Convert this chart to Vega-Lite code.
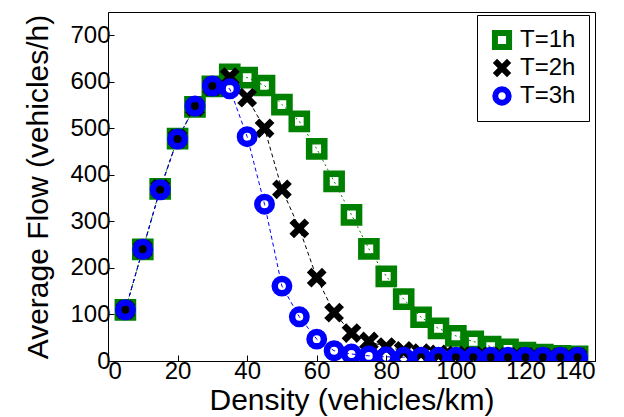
{
  "$schema": "https://vega.github.io/schema/vega-lite/v6.json",
  "width": 487,
  "height": 349,
  "autosize": "none",
  "padding": {"left": 108, "top": 12, "right": 29, "bottom": 56},
  "background": "white",
  "config": {
    "view": {"stroke": "black", "strokeWidth": 1},
    "font": "Liberation Sans",
    "axis": {
      "domainColor": "black",
      "domainWidth": 1,
      "tickColor": "black",
      "tickSize": -6,
      "labelFont": "Liberation Sans",
      "labelFontSize": 24,
      "labelColor": "black",
      "titleFont": "Liberation Sans",
      "titleFontSize": 30,
      "titleFontWeight": "normal",
      "titleColor": "black",
      "grid": false
    },
    "legend": {
      "labelFont": "Liberation Sans",
      "labelFontSize": 24,
      "labelColor": "black",
      "strokeColor": "black",
      "fillColor": "white",
      "padding": 13,
      "rowPadding": 4,
      "labelOffset": 6,
      "clipHeight": 24,
      "symbolStrokeWidth": 6,
      "symbolSize": 200,
      "cornerRadius": 0
    }
  },
  "data": {
    "values": [
      {"d": 5, "f": 110, "T": "T=1h"}, {"d": 10, "f": 240, "T": "T=1h"}, {"d": 15, "f": 370, "T": "T=1h"},
      {"d": 20, "f": 478, "T": "T=1h"}, {"d": 25, "f": 546, "T": "T=1h"}, {"d": 30, "f": 590, "T": "T=1h"},
      {"d": 35, "f": 616, "T": "T=1h"}, {"d": 40, "f": 609, "T": "T=1h"}, {"d": 45, "f": 592, "T": "T=1h"},
      {"d": 50, "f": 551, "T": "T=1h"}, {"d": 55, "f": 515, "T": "T=1h"}, {"d": 60, "f": 456, "T": "T=1h"},
      {"d": 65, "f": 386, "T": "T=1h"}, {"d": 70, "f": 314, "T": "T=1h"}, {"d": 75, "f": 241, "T": "T=1h"},
      {"d": 80, "f": 182, "T": "T=1h"}, {"d": 85, "f": 133, "T": "T=1h"}, {"d": 90, "f": 94, "T": "T=1h"},
      {"d": 95, "f": 70, "T": "T=1h"}, {"d": 100, "f": 54, "T": "T=1h"}, {"d": 105, "f": 42, "T": "T=1h"},
      {"d": 110, "f": 31, "T": "T=1h"}, {"d": 115, "f": 25, "T": "T=1h"}, {"d": 120, "f": 18, "T": "T=1h"},
      {"d": 125, "f": 14, "T": "T=1h"}, {"d": 130, "f": 11, "T": "T=1h"}, {"d": 135, "f": 10, "T": "T=1h"},

      {"d": 5, "f": 110, "T": "T=2h"}, {"d": 10, "f": 240, "T": "T=2h"}, {"d": 15, "f": 370, "T": "T=2h"},
      {"d": 20, "f": 478, "T": "T=2h"}, {"d": 25, "f": 546, "T": "T=2h"}, {"d": 30, "f": 590, "T": "T=2h"},
      {"d": 35, "f": 610, "T": "T=2h"}, {"d": 40, "f": 566, "T": "T=2h"}, {"d": 45, "f": 500, "T": "T=2h"},
      {"d": 50, "f": 369, "T": "T=2h"}, {"d": 55, "f": 285, "T": "T=2h"}, {"d": 60, "f": 179, "T": "T=2h"},
      {"d": 65, "f": 104, "T": "T=2h"}, {"d": 70, "f": 60, "T": "T=2h"}, {"d": 75, "f": 42, "T": "T=2h"},
      {"d": 80, "f": 30, "T": "T=2h"}, {"d": 85, "f": 22, "T": "T=2h"}, {"d": 90, "f": 17, "T": "T=2h"},
      {"d": 95, "f": 14, "T": "T=2h"}, {"d": 100, "f": 12, "T": "T=2h"}, {"d": 105, "f": 11, "T": "T=2h"},
      {"d": 110, "f": 10, "T": "T=2h"}, {"d": 115, "f": 9, "T": "T=2h"}, {"d": 120, "f": 9, "T": "T=2h"},
      {"d": 125, "f": 8, "T": "T=2h"}, {"d": 130, "f": 8, "T": "T=2h"}, {"d": 135, "f": 8, "T": "T=2h"},

      {"d": 5, "f": 110, "T": "T=3h"}, {"d": 10, "f": 240, "T": "T=3h"}, {"d": 15, "f": 368, "T": "T=3h"},
      {"d": 20, "f": 477, "T": "T=3h"}, {"d": 25, "f": 548, "T": "T=3h"}, {"d": 30, "f": 591, "T": "T=3h"},
      {"d": 35, "f": 585, "T": "T=3h"}, {"d": 40, "f": 482, "T": "T=3h"}, {"d": 45, "f": 337, "T": "T=3h"},
      {"d": 50, "f": 161, "T": "T=3h"}, {"d": 55, "f": 95, "T": "T=3h"}, {"d": 60, "f": 47, "T": "T=3h"},
      {"d": 65, "f": 22, "T": "T=3h"}, {"d": 70, "f": 15, "T": "T=3h"}, {"d": 75, "f": 11, "T": "T=3h"},
      {"d": 80, "f": 9, "T": "T=3h"}, {"d": 85, "f": 8, "T": "T=3h"}, {"d": 90, "f": 8, "T": "T=3h"},
      {"d": 95, "f": 8, "T": "T=3h"}, {"d": 100, "f": 8, "T": "T=3h"}, {"d": 105, "f": 8, "T": "T=3h"},
      {"d": 110, "f": 8, "T": "T=3h"}, {"d": 115, "f": 8, "T": "T=3h"}, {"d": 120, "f": 8, "T": "T=3h"},
      {"d": 125, "f": 8, "T": "T=3h"}, {"d": 130, "f": 8, "T": "T=3h"}, {"d": 135, "f": 8, "T": "T=3h"}
    ]
  },
  "encoding": {
    "x": {"field": "d", "type": "quantitative", "title": "Density (vehicles/km)",
          "scale": {"domain": [0, 140], "nice": false},
          "axis": {"orient": "bottom", "values": [0, 20, 40, 60, 80, 100, 120, 140], "labelPadding": 4, "titlePadding": 2}},
    "y": {"field": "f", "type": "quantitative", "title": "Average Flow (vehicles/h)",
          "scale": {"domain": [0, 750], "nice": false},
          "axis": {"orient": "left", "values": [0, 100, 200, 300, 400, 500, 600, 700], "labelPadding": 4, "titlePadding": 16}}
  },
  "layer": [
    {
      "transform": [{"filter": "datum.T === 'T=1h'"}],
      "mark": {"type": "line", "strokeWidth": 1, "clip": true, "color": "#008000", "strokeDash": [2, 3]},
      "encoding": {"order": {"field": "d"}}
    },
    {
      "transform": [{"filter": "datum.T === 'T=2h'"}],
      "mark": {"type": "line", "strokeWidth": 1, "clip": true, "color": "#000000", "strokeDash": [4, 3]},
      "encoding": {"order": {"field": "d"}}
    },
    {
      "transform": [{"filter": "datum.T === 'T=3h'"}],
      "mark": {"type": "line", "strokeWidth": 1, "clip": true, "color": "#0000ff", "strokeDash": [4, 3]},
      "encoding": {"order": {"field": "d"}}
    },
    {
      "mark": {"type": "point", "filled": false, "strokeWidth": 6.5, "size": 230, "opacity": 1, "clip": true},
      "encoding": {
        "color": {"field": "T", "type": "nominal",
                  "scale": {"domain": ["T=1h", "T=2h", "T=3h"], "range": ["#008000", "#000000", "#0000ff"]},
                  "legend": {"orient": "none", "legendX": 369, "legendY": 3, "title": null}},
        "shape": {"field": "T", "type": "nominal",
                  "scale": {"domain": ["T=1h", "T=2h", "T=3h"], "range": ["square", "M-1,-1L1,1M1,-1L-1,1", "M0.95,0A0.95,0.95 0 1,1 -0.95,0A0.95,0.95 0 1,1 0.95,0Z"]},
                  "legend": {"orient": "none", "legendX": 369, "legendY": 3, "title": null}}
      }
    }
  ]
}
